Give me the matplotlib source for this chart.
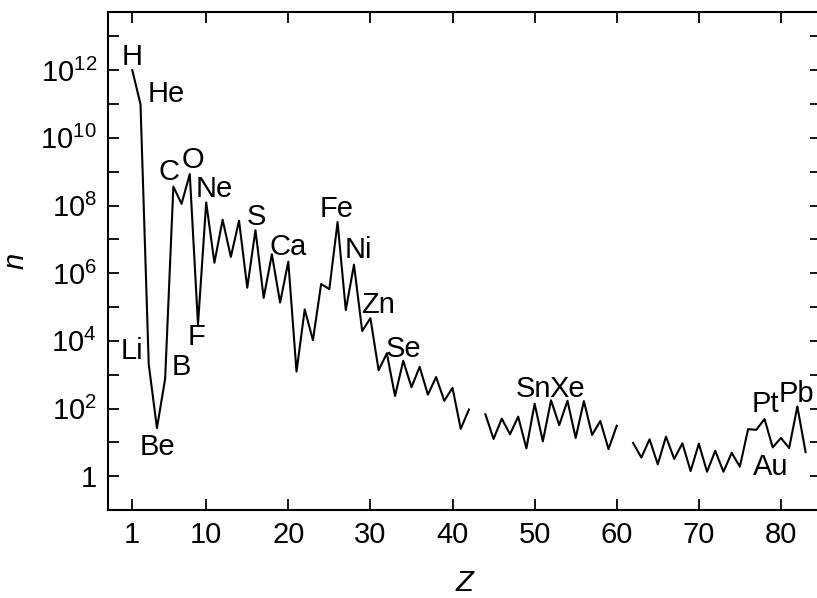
import numpy as np
import matplotlib
matplotlib.use("Agg")
import matplotlib.pyplot as plt

plt.rcParams['font.family'] = ['Liberation Sans', 'DejaVu Sans']
plt.rcParams['mathtext.fontset'] = 'custom'
plt.rcParams['mathtext.rm'] = 'Liberation Sans'
plt.rcParams['mathtext.it'] = 'Liberation Sans:italic'

# --------------------------------------------------------------
# data: log10 of abundance n for Z = 1..83 (nan = Tc, Pm not plotted)
# --------------------------------------------------------------
Z = np.arange(1, 84)
log_n = [12.00, 10.99, 3.31, 1.42, 2.88, 8.56, 8.05, 8.93, 4.48, 8.09,
         6.31, 7.58, 6.48, 7.55, 5.57, 7.27, 5.27, 6.56, 5.13, 6.34,
         3.09, 4.93, 4.02, 5.68, 5.53, 7.51, 4.91, 6.25, 4.29, 4.67,
         3.13, 3.63, 2.37, 3.41, 2.63, 3.23, 2.41, 2.93, 2.23, 2.61,
         1.40, 1.97, np.nan, 1.83, 1.10, 1.70, 1.24, 1.76, 0.82, 2.14,
         1.03, 2.24, 1.51, 2.23, 1.13, 2.22, 1.22, 1.63, 0.80, 1.49,
         np.nan, 0.98, 0.55, 1.09, 0.35, 1.17, 0.51, 0.97, 0.15, 0.96,
         0.13, 0.75, 0.13, 0.69, 0.28, 1.39, 1.37, 1.69, 0.85, 1.13,
         0.83, 2.06, 0.71]
n = 10.0 ** np.array(log_n)

# element labels: name, Z position, log10 of baseline
labels = ['H', 'He', 'Li', 'Be', 'B', 'F', 'C', 'O', 'Ne', 'S', 'Ca', 'Fe',
          'Ni', 'Zn', 'Se', 'Sn', 'Xe', 'Pt', 'Pb', 'Au']
label_z = [0.96, 5.1, 0.96, 4.07, 6.93, 8.82, 5.47, 8.39, 10.95, 16.07,
           19.96, 25.93, 28.49, 30.93, 33.97, 49.8, 53.95, 78.06, 81.84, 78.8]
label_y = [12.15, 11.06, 3.46, 0.62, 2.99, 3.87, 8.75, 9.12, 8.25, 7.42,
           6.53, 7.66, 6.44, 4.82, 3.52, 2.34, 2.34, 1.89, 2.19, 0.03]

x_ticks = [1, 10, 20, 30, 40, 50, 60, 70, 80]
y_decades = list(range(0, 14))

# --------------------------------------------------------------
# plot (right spine falls just outside the picture, as in the original)
# --------------------------------------------------------------
fig = plt.figure(figsize=(8.17, 5.98), dpi=100)
ax = fig.add_axes([108 / 817, 88 / 598, 713 / 817, 498 / 598])

ax.plot(Z, n, color='black', lw=1.5)

for name, zx, ly in zip(labels, label_z, label_y):
    ax.text(zx, 10.0 ** ly, name, ha='center', va='baseline', fontsize=21)

ax.set_yscale('log')
ax.set_xlim(-1.96, 84.88)
ax.set_ylim(10 ** -1.0, 10 ** 13.72)

ax.set_xticks(x_ticks)
ax.set_xticklabels([str(t) for t in x_ticks])
ax.set_yticks([10.0 ** d for d in y_decades])
ylabels = []
for d in y_decades:
    if d % 2 == 1:
        ylabels.append('')
    elif d == 0:
        ylabels.append('1')
    else:
        ylabels.append(r'$\mathregular{10^{%d}}$' % d)
ax.set_yticklabels(ylabels)
ax.yaxis.set_minor_locator(matplotlib.ticker.NullLocator())

ax.tick_params(which='both', direction='in', top=True, right=True,
               length=8, width=1.3, labelsize=21, pad=8)
for sp in ax.spines.values():
    sp.set_linewidth(1.5)

ax.set_xlabel('Z', fontsize=21, style='italic', labelpad=14)
ax.set_ylabel('n', fontsize=21, style='italic', labelpad=8)

plt.savefig('out.png', dpi=100)
plt.close()
